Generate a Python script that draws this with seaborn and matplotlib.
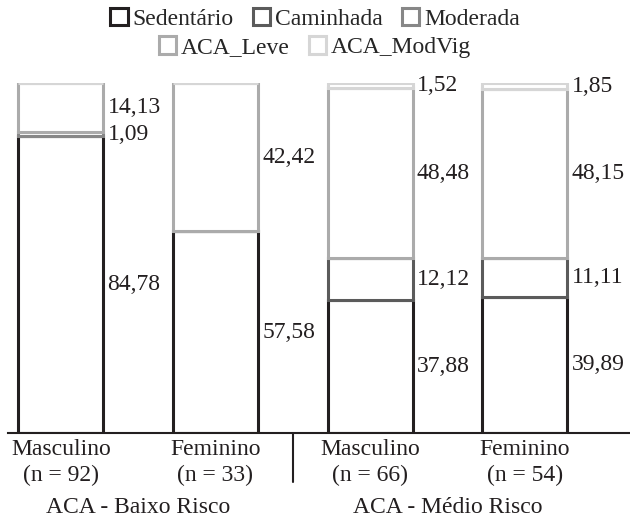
import numpy as np
import pandas as pd
import matplotlib
matplotlib.use("Agg")
from matplotlib import pyplot as plt
from matplotlib import transforms
from matplotlib.patches import Patch
import seaborn as sns

# --- DATA ---
groups = ["ACA - Baixo Risco", "ACA - Médio Risco"]
bar_labels = ["Masculino\n(n = 92)", "Feminino\n(n = 33)",
              "Masculino\n(n = 66)", "Feminino\n(n = 54)"]
categories = ["Sedentário", "Caminhada", "Moderada", "ACA_Leve", "ACA_ModVig"]

# segment sizes (%)
sedentario = [84.78, 57.58, 37.88, 38.89]
caminhada = [0, 0, 12.12, 11.11]
moderada = [1.09, 0, 0, 0]
aca_leve = [14.13, 42.42, 48.48, 48.15]
aca_modvig = [0, 0, 1.52, 1.85]
# the source chart prints 39,89 on the last sedentary segment
label_fix = {(0, 3): "39,89"}

edge_colors = ["#231f20", "#5b5b5b", "#878787", "#ababab", "#d6d6d6"]

# --- PLOT ---
sns.set_style("white")
plt.rcParams["font.family"] = ["Liberation Serif", "DejaVu Serif"]
fs = 17
ink = "#231f20"

vals = np.array([sedentario, caminhada, moderada, aca_leve, aca_modvig])
cum = np.cumsum(vals, axis=0)

fig = plt.figure(figsize=(6.3, 5.21), dpi=100)
ax = fig.add_axes([0.013, 0.169, 0.987, 0.672])

bottom = np.zeros(len(bar_labels))
for k, name in enumerate(categories):
    df = pd.DataFrame({"bar": bar_labels, "pct": vals[k]})
    sns.barplot(data=df, x="bar", y="pct", order=bar_labels, width=0.55,
                errorbar=None, color="white", saturation=1, bottom=bottom,
                edgecolor=edge_colors[k], linewidth=2.2, ax=ax)
    bottom = bottom + vals[k]

# value labels to the right of each segment
for k in range(len(categories)):
    for i in range(len(bar_labels)):
        if vals[k, i] > 0:
            mid = cum[k, i] - vals[k, i] / 2
            txt = label_fix.get((k, i), f"{vals[k, i]:.2f}".replace(".", ","))
            ax.annotate(txt, (i + 0.275, mid),
                        xytext=(3, 0), textcoords="offset points",
                        ha="left", va="center", fontsize=fs, color=ink)

ax.set_xlim(-0.34, 3.68)
ax.set_ylim(0, 100)
ax.set_xlabel("")
ax.set_ylabel("")
ax.set_yticks([])
ax.set_xticks(range(len(bar_labels)))
ax.set_xticklabels(bar_labels, fontsize=fs, linespacing=1.35, color=ink)
ax.tick_params(axis="x", length=0, pad=4)
for s in ["top", "left", "right"]:
    ax.spines[s].set_visible(False)
ax.spines["bottom"].set_linewidth(1.5)
ax.spines["bottom"].set_color(ink)

trans = transforms.blended_transform_factory(ax.transData, ax.transAxes)
ax.plot([1.5, 1.5], [0, -0.14], color=ink, lw=1.5, transform=trans, clip_on=False)
for g, name in enumerate(groups):
    ax.text(2 * g + 0.5, -0.212, name, transform=trans, ha="center", va="center",
            fontsize=fs, color=ink)

handles = [Patch(facecolor="white", edgecolor=c, linewidth=2.2, label=n)
           for n, c in zip(categories, edge_colors)]
leg_kw = dict(loc="center", frameon=False, handlelength=0.75, handleheight=0.75,
              handletextpad=0.2, columnspacing=0.8, fontsize=fs, borderpad=0)
fig.legend(handles=handles[:3], ncol=3, bbox_to_anchor=(0.5, 0.964), **leg_kw)
fig.legend(handles=handles[3:], ncol=2, bbox_to_anchor=(0.5, 0.909), **leg_kw)

plt.savefig("out.png", dpi=100)
